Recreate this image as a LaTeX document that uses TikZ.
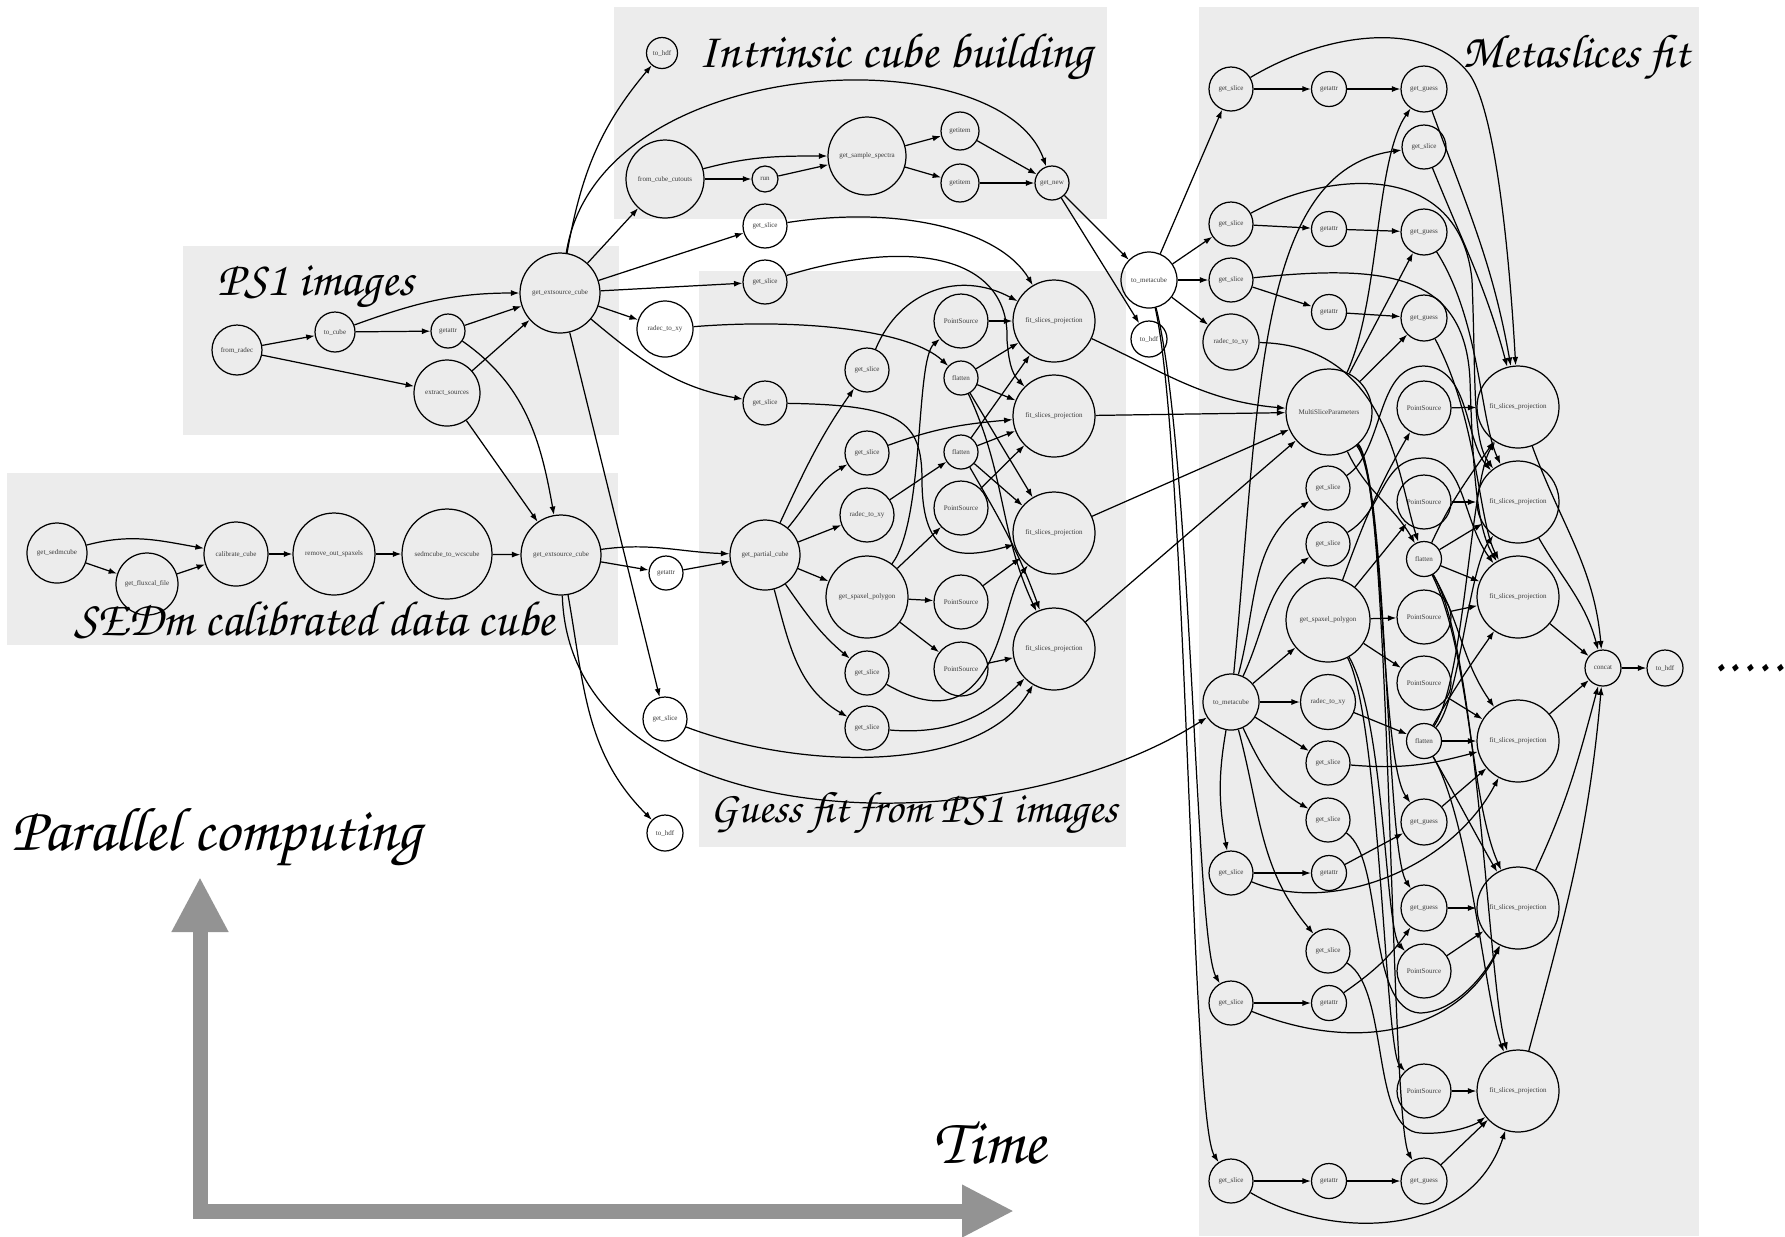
\documentclass[tikz,border=0pt]{standalone}
\usepackage[T1,TU]{fontenc}
\usepackage{fontspec}
\usepackage{graphicx}
\newfontfamily\gvfont{Liberation Serif}
\newcommand{\chancery}{\fontencoding{T1}\fontfamily{pzc}\fontseries{mb}\fontshape{it}\selectfont}
\definecolor{boxgrey}{RGB}{236,236,236}
\definecolor{axisgrey}{RGB}{147,147,147}
\definecolor{labelgrey}{RGB}{60,60,60}
\usetikzlibrary{arrows.meta}

\begin{document}
\begin{tikzpicture}[x=0.1mm, y=0.1mm,
  task/.style={circle, draw, line width=0.35pt, inner sep=0pt, text=labelgrey,
    font=\gvfont\fontsize{2}{2.4}\selectfont},
  dep/.style={-{Latex[length=0.85mm, width=0.6mm]}, line width=0.35pt},
  title/.style={anchor=base west, inner sep=0pt}]

  \useasboundingbox (0,0) rectangle (1785,-1236);

  % ---------- grey group boxes ----------
  \fill[boxgrey] (183,-246) rectangle (619,-435);
  \fill[boxgrey] (7,-473) rectangle (618,-645);
  \fill[boxgrey] (614,-7) rectangle (1107,-219);
  \fill[boxgrey] (699,-271) rectangle (1126,-847);
  \fill[boxgrey] (1199,-7) rectangle (1699,-1236);

  % ---------- group titles ----------
  \node[title] (tps) at (217,-295) {\resizebox{19.6mm}{!}{\chancery PS1 images}};
  \node[title] (tsedm) at (74,-635) {\resizebox{48mm}{!}{\chancery SEDm calibrated data cube}};
  \node[title] (tintr) at (698,-67) {\resizebox{39.4mm}{!}{\chancery Intrinsic cube building}};
  \node[title] (tguess) at (710,-822) {\resizebox{40.7mm}{!}{\chancery Guess fit from PS1 images}};
  \node[title] (tmeta) at (1462,-67) {\resizebox{22.7mm}{!}{\chancery Metaslices fit}};

  % ---------- time / parallel axes ----------
  \draw[axisgrey, line width=1.5mm, line join=miter,
    {Triangle[length=5.5mm, width=5.3mm]}-{Triangle[length=5.2mm, width=4.9mm]}]
    (200,-877) -- (200,-1211) -- (1014,-1211);
  \node[title] (tpar) at (11,-850) {\resizebox{41mm}{!}{\chancery Parallel computing}};
  \node[title] (ttime) at (933,-1163) {\resizebox{11.2mm}{!}{\chancery Time}};

  % ---------- PS1 images ----------
  \node[task, minimum size=5mm] (fromradec) at (237,-350) {from\_radec};
  \node[task, minimum size=4mm] (tocube) at (335,-332) {to\_cube};
  \node[task, minimum size=3.4mm] (getattrA) at (448,-331) {getattr};
  \node[task, minimum size=6.6mm] (extract) at (447,-393) {extract\_sources};
  \node[task, minimum size=8mm] (gecA) at (560,-293) {get\_extsource\_cube};

  % ---------- SEDm cube ----------
  \node[task, minimum size=6mm] (sedmcube) at (57,-553) {get\_sedmcube};
  \node[task, minimum size=6.2mm] (fluxcal) at (147,-584) {get\_fluxcal\_file};
  \node[task, minimum size=6.4mm] (calib) at (236,-554) {calibrate\_cube};
  \node[task, minimum size=8.2mm] (rmspax) at (334,-554) {remove\_out\_spaxels};
  \node[task, minimum size=9mm] (towcs) at (447,-554) {sedmcube\_to\_wcscube};
  \node[task, minimum size=8mm] (gecB) at (561,-555) {get\_extsource\_cube};

  % ---------- intrinsic cube ----------
  \node[task, minimum size=3.1mm] (hdfA) at (662,-53) {to\_hdf};
  \node[task, minimum size=7.8mm] (cutouts) at (665,-179) {from\_cube\_cutouts};
  \node[task, minimum size=2.6mm] (run) at (765,-179) {run};
  \node[task, minimum size=7.8mm] (spectra) at (867,-156) {get\_sample\_spectra};
  \node[task, minimum size=3.8mm] (itemA) at (960,-131) {getitem};
  \node[task, minimum size=3.8mm] (itemB) at (960,-183) {getitem};
  \node[task, minimum size=3.4mm] (getnew) at (1052,-183) {get\_new};

  % ---------- guess fit ----------
  \node[task, minimum size=4.4mm] (sliceA) at (765,-226) {get\_slice};
  \node[task, minimum size=4.4mm] (sliceB) at (765,-282) {get\_slice};
  \node[task, minimum size=5.6mm] (radecA) at (665,-329) {radec\_to\_xy};
  \node[task, minimum size=4.4mm] (sliceC) at (765,-403) {get\_slice};
  \node[task, minimum size=4.4mm] (sliceD) at (867,-370) {get\_slice};
  \node[task, minimum size=4.4mm] (sliceE) at (867,-453) {get\_slice};
  \node[task, minimum size=5.4mm] (radecB) at (867,-515) {radec\_to\_xy};
  \node[task, minimum size=7mm] (partial) at (765,-555) {get\_partial\_cube};
  \node[task, minimum size=3.4mm] (getattrB) at (666,-573) {getattr};
  \node[task, minimum size=8.2mm] (spaxel) at (867,-597) {get\_spaxel\_polygon};
  \node[task, minimum size=4.4mm] (sliceF) at (867,-673) {get\_slice};
  \node[task, minimum size=4.4mm] (sliceG) at (867,-728) {get\_slice};
  \node[task, minimum size=4.4mm] (sliceH) at (665,-719) {get\_slice};
  \node[task, minimum size=3.6mm] (hdfB) at (665,-833) {to\_hdf};
  \node[task, minimum size=5.4mm] (psA) at (961,-321) {PointSource};
  \node[task, minimum size=3.4mm] (flatA) at (961,-378) {flatten};
  \node[task, minimum size=3.4mm] (flatB) at (961,-452) {flatten};
  \node[task, minimum size=5.4mm] (psB) at (961,-508) {PointSource};
  \node[task, minimum size=5.4mm] (psC) at (961,-602) {PointSource};
  \node[task, minimum size=5.4mm] (psD) at (961,-669) {PointSource};
  \node[task, minimum size=8.2mm] (fitA) at (1054,-321) {fit\_slices\_projection};
  \node[task, minimum size=8.2mm] (fitB) at (1054,-416) {fit\_slices\_projection};
  \node[task, minimum size=8.2mm] (fitC) at (1054,-533) {fit\_slices\_projection};
  \node[task, minimum size=8.2mm] (fitD) at (1054,-649) {fit\_slices\_projection};

  % ---------- metaslices ----------
  \node[task, minimum size=5.6mm] (metaA) at (1149,-280) {to\_metacube};
  \node[task, minimum size=3.6mm] (hdfC) at (1149,-339) {to\_hdf};

  \node[task, minimum size=4.4mm] (sliceM1) at (1231,-89) {get\_slice};
  \node[task, minimum size=4.4mm] (sliceM3) at (1231,-224) {get\_slice};
  \node[task, minimum size=4.4mm] (sliceM4) at (1231,-280) {get\_slice};
  \node[task, minimum size=5.6mm] (radecM1) at (1231,-342) {radec\_to\_xy};
  \node[task, minimum size=5.6mm] (metaB) at (1231,-702) {to\_metacube};
  \node[task, minimum size=4.4mm] (sliceM9) at (1231,-873) {get\_slice};
  \node[task, minimum size=4.4mm] (sliceM11) at (1231,-1003) {get\_slice};
  \node[task, minimum size=4.4mm] (sliceM12) at (1231,-1181) {get\_slice};

  \node[task, minimum size=3.5mm] (attrM1) at (1329,-89) {getattr};
  \node[task, minimum size=3.5mm] (attrM3) at (1329,-229) {getattr};
  \node[task, minimum size=3.5mm] (attrM4) at (1329,-312) {getattr};
  \node[task, minimum size=8.6mm] (msp) at (1329,-412) {MultiSliceParameters};
  \node[task, minimum size=4.4mm] (sliceM5) at (1328,-488) {get\_slice};
  \node[task, minimum size=4.4mm] (sliceM6) at (1328,-544) {get\_slice};
  \node[task, minimum size=8.4mm] (spaxelM) at (1328,-620) {get\_spaxel\_polygon};
  \node[task, minimum size=5.5mm] (radecM2) at (1328,-702) {radec\_to\_xy};
  \node[task, minimum size=4.4mm] (sliceM7) at (1328,-763) {get\_slice};
  \node[task, minimum size=4.4mm] (sliceM8) at (1328,-820) {get\_slice};
  \node[task, minimum size=3.5mm] (attrM9) at (1329,-873) {getattr};
  \node[task, minimum size=4.4mm] (sliceM10) at (1328,-951) {get\_slice};
  \node[task, minimum size=3.5mm] (attrM11) at (1329,-1003) {getattr};
  \node[task, minimum size=3.5mm] (attrM12) at (1329,-1181) {getattr};

  \node[task, minimum size=4.6mm] (guessM1) at (1424,-89) {get\_guess};
  \node[task, minimum size=4.4mm] (sliceM2) at (1424,-147) {get\_slice};
  \node[task, minimum size=4.6mm] (guessM3) at (1424,-232) {get\_guess};
  \node[task, minimum size=4.6mm] (guessM4) at (1424,-318) {get\_guess};
  \node[task, minimum size=5.4mm] (psM1) at (1424,-408) {PointSource};
  \node[task, minimum size=5.4mm] (psM2) at (1424,-502) {PointSource};
  \node[task, minimum size=3.5mm] (flatM1) at (1424,-559) {flatten};
  \node[task, minimum size=5.4mm] (psM3) at (1424,-617) {PointSource};
  \node[task, minimum size=5.4mm] (psM4) at (1424,-683) {PointSource};
  \node[task, minimum size=3.5mm] (flatM2) at (1424,-741) {flatten};
  \node[task, minimum size=4.6mm] (guessM5) at (1424,-822) {get\_guess};
  \node[task, minimum size=4.6mm] (guessM6) at (1424,-908) {get\_guess};
  \node[task, minimum size=5.4mm] (psM5) at (1424,-971) {PointSource};
  \node[task, minimum size=5.4mm] (psM6) at (1424,-1091) {PointSource};
  \node[task, minimum size=4.6mm] (guessM7) at (1424,-1181) {get\_guess};

  \node[task, minimum size=8.2mm] (fitM1) at (1518,-407) {fit\_slices\_projection};
  \node[task, minimum size=8.2mm] (fitM2) at (1518,-502) {fit\_slices\_projection};
  \node[task, minimum size=8.2mm] (fitM3) at (1518,-597) {fit\_slices\_projection};
  \node[task, minimum size=8.2mm] (fitM4) at (1518,-741) {fit\_slices\_projection};
  \node[task, minimum size=8.2mm] (fitM5) at (1518,-908) {fit\_slices\_projection};
  \node[task, minimum size=8.2mm] (fitM6) at (1518,-1091) {fit\_slices\_projection};

  \node[task, minimum size=3.6mm] (concat) at (1603,-668) {concat};
  \node[task, minimum size=3.6mm] (hdfD) at (1665,-668) {to\_hdf};
  \node[font=\chancery\fontsize{16}{16}\selectfont, inner sep=0pt] (dots) at (1748,-668)
    {.\hspace{0.25mm}.\hspace{0.25mm}.\hspace{0.25mm}.\hspace{0.25mm}.};

  % ---------- edges: PS1 and SEDm ----------
  \draw[dep] (fromradec) -- (tocube);
  \draw[dep] (fromradec) -- (extract);
  \draw[dep] (tocube) -- (getattrA);
  \draw[dep] (tocube) to[out=20, in=180] (gecA);
  \draw[dep] (getattrA) -- (gecA);
  \draw[dep] (extract) -- (gecA);
  \draw[dep] (extract) -- (gecB);
  \draw[dep] (getattrA) to[out=-35, in=100] (gecB);
  \draw[dep] (sedmcube) to[out=15, in=170] (calib);
  \draw[dep] (sedmcube) -- (fluxcal);
  \draw[dep] (fluxcal) -- (calib);
  \draw[dep] (calib) -- (rmspax);
  \draw[dep] (rmspax) -- (towcs);
  \draw[dep] (towcs) -- (gecB);

  % ---------- edges: out of the extended source cubes ----------
  \draw[dep] (gecA) to[out=80, in=230] (hdfA);
  \draw[dep] (gecA) .. controls (598,-50) and (1000,-35) .. (getnew);
  \draw[dep] (gecA) -- (cutouts);
  \draw[dep] (gecA) -- (sliceA);
  \draw[dep] (gecA) -- (sliceB);
  \draw[dep] (gecA) -- (radecA);
  \draw[dep] (gecA) to[out=-40, in=170] (sliceC);
  \draw[dep] (gecA) -- (sliceH);
  \draw[dep] (gecB) to[out=8, in=178] (partial);
  \draw[dep] (gecB) -- (getattrB);
  \draw[dep] (getattrB) -- (partial);
  \draw[dep] (gecB) to[out=-80, in=135] (hdfB);
  \draw[dep] (gecB) .. controls (570,-840) and (1000,-850) .. (metaB);

  % ---------- edges: intrinsic cube ----------
  \draw[dep] (cutouts) to[out=15, in=180] (spectra);
  \draw[dep] (cutouts) -- (run);
  \draw[dep] (run) -- (spectra);
  \draw[dep] (spectra) -- (itemA);
  \draw[dep] (spectra) -- (itemB);
  \draw[dep] (itemA) -- (getnew);
  \draw[dep] (itemB) -- (getnew);
  \draw[dep] (getnew) -- (metaA);
  \draw[dep] (getnew) -- (hdfC);

  % ---------- edges: guess fit ----------
  \draw[dep] (sliceA) .. controls (900,-205) and (1000,-230) .. (fitA);
  \draw[dep] (sliceB) .. controls (920,-235) and (1010,-260) .. (1007,-340) to[out=-85, in=135] (fitB);
  \draw[dep] (radecA) .. controls (800,-318) and (910,-330) .. (flatA);
  \draw[dep] (sliceC) .. controls (900,-405) and (922,-420) .. (922,-480)
    .. controls (922,-560) and (960,-560) .. (fitC);
  \draw[dep] (sliceD) .. controls (900,-290) and (960,-270) .. (fitA);
  \draw[dep] (sliceE) to[out=20, in=185] (fitB);
  \draw[dep] (radecB) -- (flatB);
  \draw[dep] (partial) to[out=65, in=235] (sliceD);
  \draw[dep] (partial) to[out=50, in=210] (sliceE);
  \draw[dep] (partial) -- (radecB);
  \draw[dep] (partial) -- (spaxel);
  \draw[dep] (partial) to[out=-55, in=140] (sliceF);
  \draw[dep] (partial) to[out=-75, in=150] (sliceG);
  \draw[dep] (spaxel) .. controls (925,-520) and (915,-360) .. (psA);
  \draw[dep] (spaxel) -- (psB);
  \draw[dep] (spaxel) -- (psC);
  \draw[dep] (spaxel) -- (psD);
  \draw[dep] (psA) -- (fitA);
  \draw[dep] (psB) -- (fitB);
  \draw[dep] (psC) -- (fitC);
  \draw[dep] (psD) -- (fitD);
  \draw[dep] (flatA) -- (fitA);
  \draw[dep] (flatA) -- (fitB);
  \draw[dep] (flatA) -- (fitC);
  \draw[dep] (flatA) to[out=-65, in=115] (fitD);
  \draw[dep] (flatB) -- (fitA);
  \draw[dep] (flatB) -- (fitB);
  \draw[dep] (flatB) -- (fitC);
  \draw[dep] (flatB) to[out=-60, in=110] (fitD);
  \draw[dep] (sliceF) .. controls (1000,-750) and (1000,-600) .. (fitC);
  \draw[dep] (sliceG) to[out=-5, in=225] (fitD);
  \draw[dep] (sliceH) .. controls (800,-770) and (980,-775) .. (fitD);
  \draw[dep] (fitA) to[out=-25, in=175] (msp);
  \draw[dep] (fitB) -- (msp);
  \draw[dep] (fitC) -- (msp);
  \draw[dep] (fitD) -- (msp);

  % ---------- edges: metacubes ----------
  \draw[dep] (metaA) -- (sliceM1);
  \draw[dep] (metaA) -- (sliceM3);
  \draw[dep] (metaA) -- (sliceM4);
  \draw[dep] (metaA) -- (radecM1);
  \draw[dep] (metaA) .. controls (1192,-450) and (1195,-940) .. (sliceM11);
  \draw[dep] (metaA) .. controls (1187,-450) and (1191,-1120) .. (sliceM12);
  \draw[dep] (metaB) .. controls (1260,-400) and (1255,-170) .. (sliceM2);
  \draw[dep] (metaB) to[out=75, in=215] (sliceM5);
  \draw[dep] (metaB) to[out=65, in=215] (sliceM6);
  \draw[dep] (metaB) -- (spaxelM);
  \draw[dep] (metaB) -- (radecM2);
  \draw[dep] (metaB) -- (sliceM7);
  \draw[dep] (metaB) to[out=-65, in=150] (sliceM8);
  \draw[dep] (metaB) to[out=-100, in=100] (sliceM9);
  \draw[dep] (metaB) to[out=-75, in=130] (sliceM10);

  % ---------- edges: guesses ----------
  \draw[dep] (sliceM1) -- (attrM1);
  \draw[dep] (sliceM3) -- (attrM3);
  \draw[dep] (sliceM4) -- (attrM4);
  \draw[dep] (sliceM9) -- (attrM9);
  \draw[dep] (sliceM11) -- (attrM11);
  \draw[dep] (sliceM12) -- (attrM12);
  \draw[dep] (attrM1) -- (guessM1);
  \draw[dep] (attrM3) -- (guessM3);
  \draw[dep] (attrM4) -- (guessM4);
  \draw[dep] (attrM9) -- (guessM5);
  \draw[dep] (attrM11) to[out=35, in=235] (guessM6);
  \draw[dep] (attrM12) -- (guessM7);
  \draw[dep] (msp) .. controls (1380,-300) and (1375,-160) .. (guessM1);
  \draw[dep] (msp) -- (guessM3);
  \draw[dep] (msp) -- (guessM4);
  \draw[dep] (msp) to[out=-65, in=120] (flatM1);
  \draw[dep] (radecM1) .. controls (1390,-345) and (1398,-480) .. (flatM1);
  \draw[dep] (msp) .. controls (1385,-480) and (1380,-760) .. (guessM5);
  \draw[dep] (msp) .. controls (1388,-480) and (1385,-850) .. (guessM6);
  \draw[dep] (msp) .. controls (1391,-480) and (1390,-1120) .. (guessM7);
  \draw[dep] (radecM2) -- (flatM2);

  % ---------- edges: point sources ----------
  \draw[dep] (spaxelM) to[out=70, in=240] (psM1);
  \draw[dep] (spaxelM) -- (psM2);
  \draw[dep] (spaxelM) -- (psM3);
  \draw[dep] (spaxelM) -- (psM4);
  \draw[dep] (spaxelM) .. controls (1385,-720) and (1385,-930) .. (psM5);
  \draw[dep] (spaxelM) .. controls (1380,-720) and (1385,-1050) .. (psM6);
  \draw[dep] (psM1) -- (fitM1);
  \draw[dep] (psM2) -- (fitM2);
  \draw[dep] (psM3) -- (fitM3);
  \draw[dep] (psM4) -- (fitM4);
  \draw[dep] (psM5) -- (fitM5);
  \draw[dep] (psM6) -- (fitM6);

  % ---------- edges: into the slice fits ----------
  \draw[dep] (guessM1) to[out=-70, in=100] (fitM1);
  \draw[dep] (guessM3) .. controls (1480,-320) and (1480,-420) .. (fitM2);
  \draw[dep] (guessM4) .. controls (1478,-420) and (1478,-520) .. (fitM3);
  \draw[dep] (guessM5) -- (fitM4);
  \draw[dep] (guessM6) -- (fitM5);
  \draw[dep] (guessM7) -- (fitM6);
  \draw[dep] (sliceM1) .. controls (1330,-30) and (1430,-20) .. (1470,-75)
    .. controls (1500,-120) and (1512,-300) .. (fitM1);
  \draw[dep] (sliceM2) to[out=-68, in=105] (fitM1);
  \draw[dep] (sliceM3) .. controls (1330,-170) and (1460,-160) .. (1472,-280)
    .. controls (1476,-380) and (1472,-440) .. (fitM2);
  \draw[dep] (sliceM4) .. controls (1380,-265) and (1465,-270) .. (1470,-380)
    .. controls (1473,-480) and (1478,-530) .. (fitM3);
  \draw[dep] (sliceM5) .. controls (1385,-450) and (1375,-366) .. (1424,-366)
    .. controls (1470,-368) and (1465,-440) .. (fitM2);
  \draw[dep] (sliceM6) .. controls (1385,-510) and (1380,-458) .. (1424,-458)
    .. controls (1465,-458) and (1462,-520) .. (fitM3);
  \draw[dep] (sliceM7) to[out=-5, in=195] (fitM4);
  \draw[dep] (sliceM8) .. controls (1385,-860) and (1365,-1010) .. (1420,-1013)
    .. controls (1455,-1012) and (1485,-975) .. (fitM5);
  \draw[dep] (sliceM10) .. controls (1390,-990) and (1370,-1130) .. (1420,-1133)
    .. controls (1450,-1135) and (1475,-1125) .. (fitM6);
  \draw[dep] (sliceM9) .. controls (1330,-915) and (1450,-870) .. (fitM4);
  \draw[dep] (sliceM11) .. controls (1360,-1055) and (1460,-1030) .. (fitM5);
  \draw[dep] (sliceM12) .. controls (1330,-1240) and (1470,-1240) .. (fitM6);
  \draw[dep] (flatM1) to[out=65, in=235] (fitM1);
  \draw[dep] (flatM1) -- (fitM2);
  \draw[dep] (flatM1) -- (fitM3);
  \draw[dep] (flatM1) to[out=-60, in=125] (fitM4);
  \draw[dep] (flatM1) .. controls (1470,-650) and (1470,-800) .. (fitM5);
  \draw[dep] (flatM1) .. controls (1478,-650) and (1488,-980) .. (fitM6);
  \draw[dep] (flatM2) .. controls (1465,-680) and (1470,-480) .. (fitM1);
  \draw[dep] (flatM2) .. controls (1460,-700) and (1468,-570) .. (fitM2);
  \draw[dep] (flatM2) to[out=60, in=235] (fitM3);
  \draw[dep] (flatM2) -- (fitM4);
  \draw[dep] (flatM2) to[out=-60, in=120] (fitM5);
  \draw[dep] (flatM2) .. controls (1470,-820) and (1485,-1000) .. (fitM6);

  % ---------- edges: concatenation ----------
  \draw[dep] (fitM1) to[out=-70, in=95] (concat);
  \draw[dep] (fitM2) to[out=-60, in=105] (concat);
  \draw[dep] (fitM3) -- (concat);
  \draw[dep] (fitM4) -- (concat);
  \draw[dep] (fitM5) to[out=65, in=-105] (concat);
  \draw[dep] (fitM6) to[out=75, in=-95] (concat);
  \draw[dep] (concat) -- (hdfD);

\end{tikzpicture}
\end{document}
